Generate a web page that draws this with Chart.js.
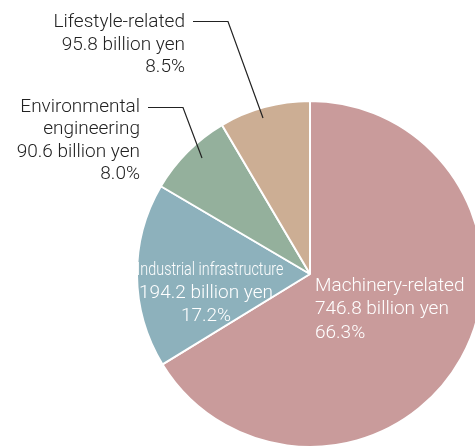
<!DOCTYPE html>
<html>
<head>
<meta charset="utf-8">
<script src="https://cdn.jsdelivr.net/npm/chart.js@4"></script>
<style>
html,body{margin:0;padding:0;background:#fff;overflow:hidden;width:475px;height:448px;}
canvas{display:block;}
</style>
</head>
<body>
<canvas id="c" width="490" height="460" style="width:490px;height:460px"></canvas>
<script>
const categories = ["Machinery-related", "Industrial infrastructure", "Environmental engineering", "Lifestyle-related"];
const amounts = [746.8, 194.2, 90.6, 95.8];          // billion yen
const shares = ["66.3%", "17.2%", "8.0%", "8.5%"];
const colors = ["#c99b9b", "#8db1bc", "#94b09c", "#ccae94"];

const FONT = "300 19px Roboto, 'Liberation Sans', sans-serif";
const LH = 22.8;

const labelPlugin = {
  id: 'labels',
  afterDraw(chart) {
    const ctx = chart.ctx;
    ctx.save();
    ctx.font = FONT;
    ctx.textBaseline = 'middle';
    // Machinery-related (inside, white, left aligned)
    ctx.fillStyle = '#fff';
    ctx.textAlign = 'left';
    [categories[0], amounts[0] + ' billion yen', shares[0]].forEach((t, i) => ctx.fillText(t, 315, 286 + i * 23.5));
    // Industrial infrastructure (inside, white, centered)
    ctx.textAlign = 'center';
    ctx.fillText(categories[1], 210, 270, 147);
    [amounts[1] + ' billion yen', shares[1]].forEach((t, i) => ctx.fillText(t, 206, 293 + i * 23));
    // Outside labels
    ctx.fillStyle = '#222';
    ctx.textAlign = 'right';
    [categories[3], amounts[3] + ' billion yen', shares[3]].forEach((t, i) => ctx.fillText(t, 185, 22 + i * LH));
    ['Environmental', 'engineering', amounts[2] + ' billion yen', shares[2]].forEach((t, i) => ctx.fillText(t, 140, 107 + i * 22.5));
    // leader lines
    ctx.strokeStyle = '#222';
    ctx.lineWidth = 1.2;
    ctx.beginPath();
    ctx.moveTo(193, 21.5); ctx.lineTo(228, 21.5); ctx.lineTo(263, 118);
    ctx.moveTo(148, 107.5); ctx.lineTo(183, 107.5); ctx.lineTo(202, 158);
    ctx.stroke();
    ctx.restore();
  }
};

new Chart(document.getElementById('c'), {
  type: 'pie',
  data: {
    labels: categories,
    datasets: [{
      data: amounts,
      backgroundColor: colors,
      borderColor: '#ffffff',
      borderWidth: 2
    }]
  },
  options: {
    responsive: false,
    animation: false,
    layout: { padding: { left: 136, top: 100, right: 6, bottom: 12 } },
    plugins: { legend: { display: false }, tooltip: { enabled: false } }
  },
  plugins: [labelPlugin]
});
</script>
</body>
</html>
